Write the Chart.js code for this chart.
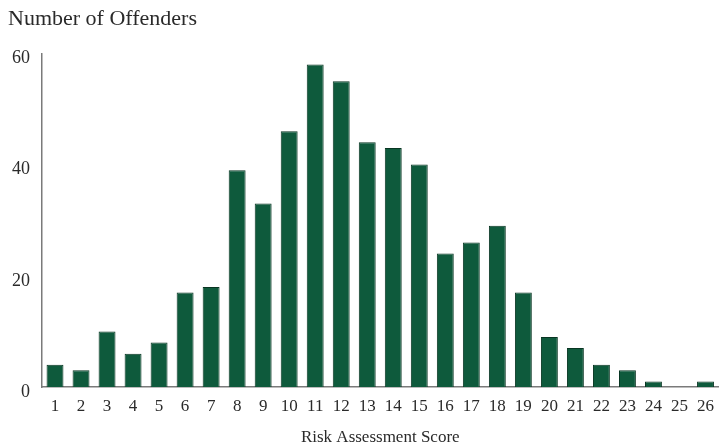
<!DOCTYPE html>
<html>
<head>
<meta charset="utf-8">
<style>
html,body{margin:0;padding:0;background:#ffffff;}
#wrap{width:723px;height:448px;position:relative;}
</style>
<script src="https://cdn.jsdelivr.net/npm/chart.js@4.4.1/dist/chart.umd.min.js"></script>
</head>
<body>
<div id="wrap"><canvas id="c" width="723" height="448"></canvas></div>
<script>
const scoreLabels = ['1','2','3','4','5','6','7','8','9','10','11','12','13','14','15','16','17','18','19','20','21','22','23','24','25','26'];
const offenderCounts = [4,3,10,6,8,17,18,39,33,46,58,55,44,43,40,24,26,29,17,9,7,4,3,1,0,1];
const yTickValues = [0,20,40,60];
const yAxisTitle = 'Number of Offenders';
const xAxisTitle = 'Risk Assessment Score';

const serif = 'Liberation Serif, Times New Roman, serif';
const textColor = '#2a2a2a';

new Chart(document.getElementById('c'), {
  type: 'bar',
  data: {
    labels: scoreLabels,
    datasets: [{
      data: offenderCounts,
      backgroundColor: '#0e5a3c',
      borderColor: '#083522',
      borderWidth: 1,
      borderSkipped: 'bottom',
      barPercentage: 0.65,
      categoryPercentage: 1.0
    }]
  },
  options: {
    responsive: false,
    animation: false,
    devicePixelRatio: 1,
    layout: { padding: { left: 8, right: 0, top: 0, bottom: 0 } },
    plugins: {
      legend: { display: false },
      tooltip: { enabled: false },
      title: {
        display: true,
        text: yAxisTitle,
        align: 'start',
        color: textColor,
        font: { family: serif, size: 22, weight: 'normal' },
        padding: { top: 6, bottom: 21 }
      }
    },
    scales: {
      x: {
        afterFit: (scale) => { scale.height = 61; },
        grid: { display: false, drawTicks: false },
        border: { display: true, color: '#7a7a7a', width: 1.5 },
        ticks: {
          color: textColor,
          font: { family: serif, size: 17 },
          padding: 9,
          maxRotation: 0,
          autoSkip: false
        },
        title: {
          display: true,
          text: xAxisTitle,
          color: textColor,
          font: { family: serif, size: 17 },
          padding: { top: 12, bottom: 0 }
        }
      },
      y: {
        min: 0,
        max: 60,
        afterBuildTicks: (scale) => { scale.ticks = yTickValues.map(v => ({ value: v })); },
        afterFit: (scale) => { scale.width = 34; },
        grid: { display: false, drawTicks: false },
        border: { display: true, color: '#7a7a7a', width: 1.5 },
        ticks: {
          color: textColor,
          font: { family: serif, size: 18 },
          padding: 12,
          labelOffset: 5
        }
      }
    }
  }
});
</script>
</body>
</html>
